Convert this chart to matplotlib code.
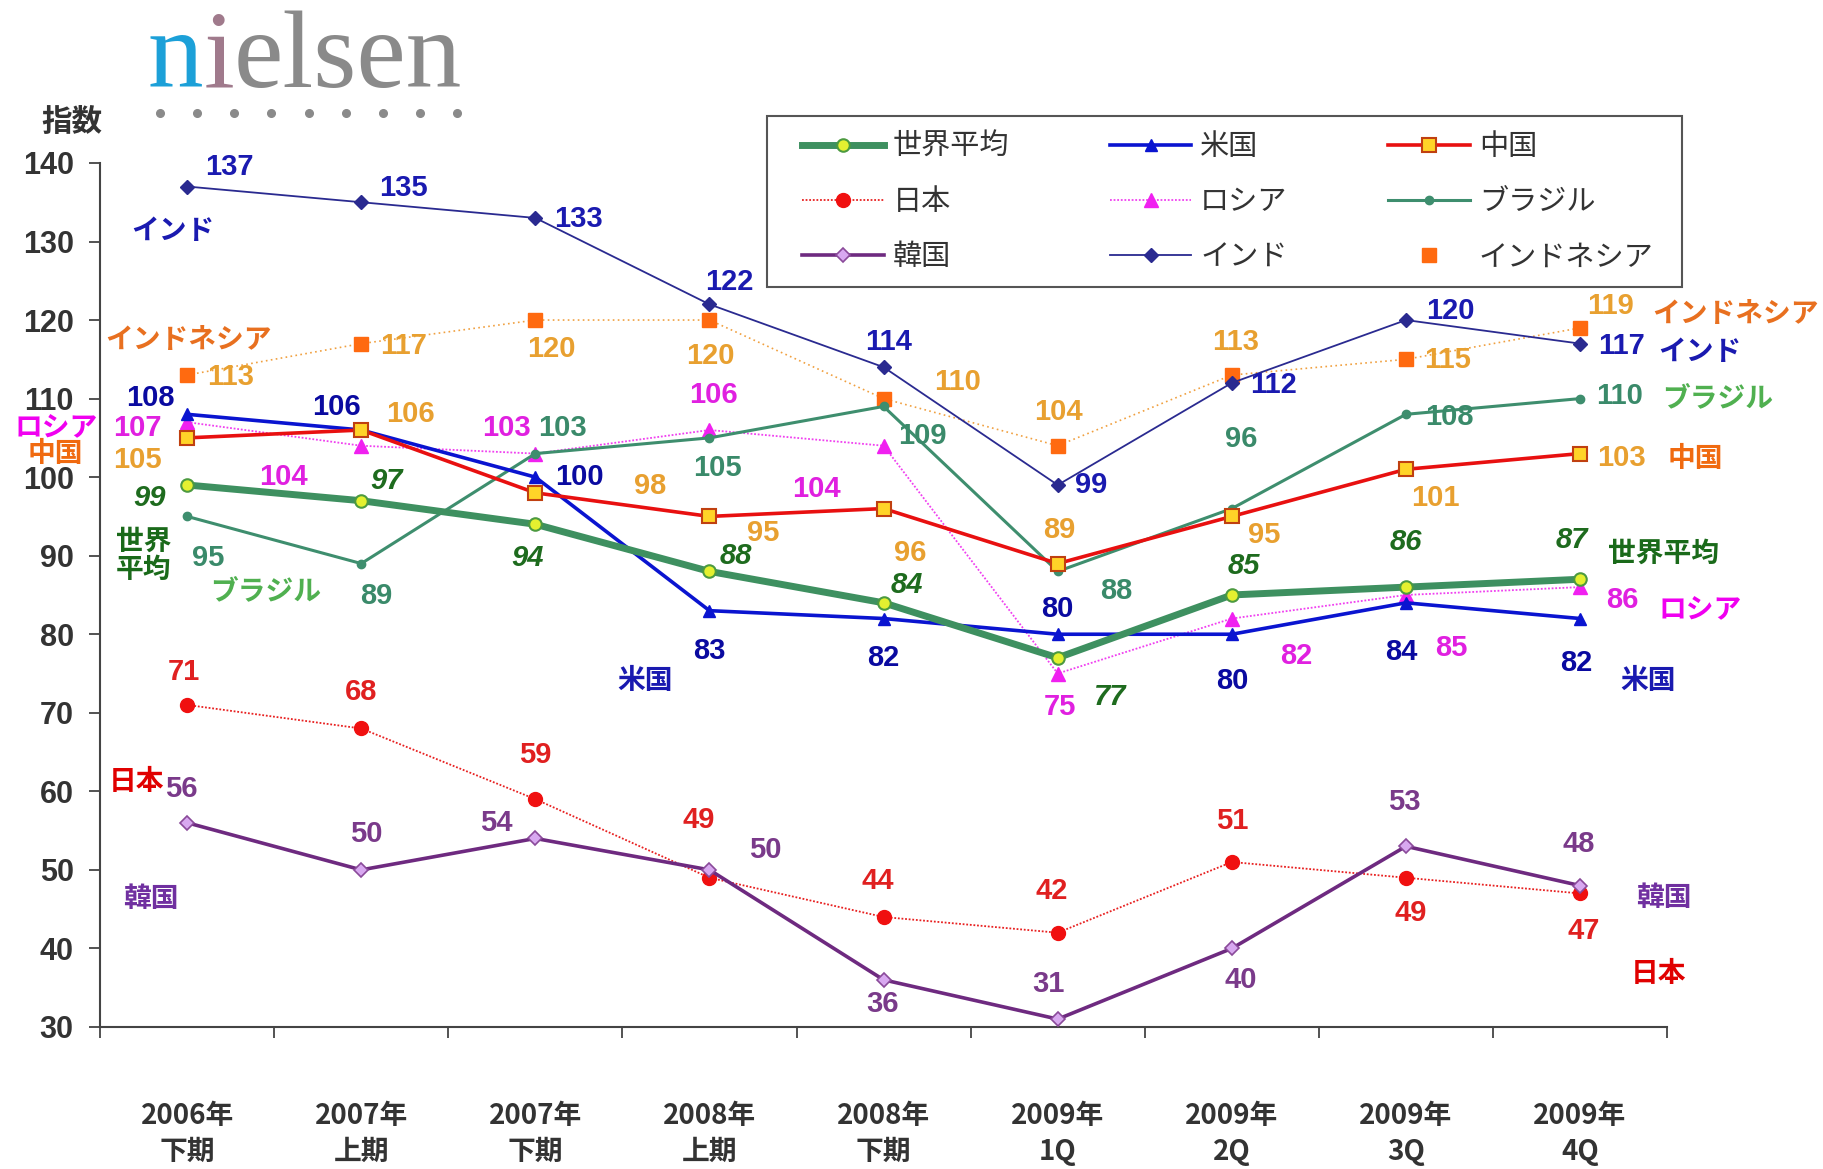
import matplotlib
matplotlib.use("Agg")
import matplotlib.pyplot as plt
from matplotlib.lines import Line2D
from matplotlib.patches import Rectangle
import matplotlib.font_manager as fm

# ---------------- data ----------------
categories = ["2006年\n下期", "2007年\n上期", "2007年\n下期", "2008年\n上期", "2008年\n下期",
              "2009年\n1Q", "2009年\n2Q", "2009年\n3Q", "2009年\n4Q"]
world = [99, 97, 94, 88, 84, 77, 85, 86, 87]
usa = [108, 106, 100, 83, 82, 80, 80, 84, 82]
china = [105, 106, 98, 95, 96, 89, 95, 101, 103]
japan = [71, 68, 59, 49, 44, 42, 51, 49, 47]
russia = [107, 104, 103, 106, 104, 75, 82, 85, 86]
brazil = [95, 89, 103, 105, 109, 88, 96, 108, 110]
korea = [56, 50, 54, 50, 36, 31, 40, 53, 48]
india = [137, 135, 133, 122, 114, 99, 112, 120, 117]
indonesia = [113, 117, 120, 120, 110, 104, 113, 115, 119]
yticks = list(range(30, 141, 10))

names = {"world": "世界平均", "usa": "米国", "china": "中国", "japan": "日本", "russia": "ロシア",
         "brazil": "ブラジル", "korea": "韓国", "india": "インド", "indonesia": "インドネシア"}

avail = {f.name for f in fm.fontManager.ttflist}
NARROW = "Liberation Sans Narrow" if "Liberation Sans Narrow" in avail else "Liberation Sans"
CJK = "Noto Sans CJK JP"
plt.rcParams['font.family'] = [CJK, 'DejaVu Sans']

fig = plt.figure(figsize=(18.23, 11.69), dpi=100)
ax = fig.add_axes([0.0549, 0.1215, 0.8596, 0.7391])
x = list(range(len(categories)))

styles = {
    "world": dict(color="#3E9060", lw=5, marker="o", ms=9, mfc="#E4F030", mec="#4C9A40", mew=1.5, ls="-"),
    "usa": dict(color="#0A14D0", lw=2.6, marker="^", ms=9, mfc="#0A14D0", mec="#0A14D0", ls="-"),
    "china": dict(color="#E81010", lw=2.6, marker="s", ms=10, mfc="#FFD428", mec="#C04010", mew=1.5, ls="-"),
    "japan": dict(color="#E82020", lw=1.3, marker="o", ms=10, mfc="#F01010", mec="#F01010", ls=(0, (1, 1))),
    "russia": dict(color="#F040F0", lw=1.3, marker="^", ms=10, mfc="#F020F0", mec="#F020F0", ls=(0, (1, 1))),
    "brazil": dict(color="#3E8E6E", lw=2.2, marker="o", ms=6, mfc="#3E8E6E", mec="#3E8E6E", ls="-"),
    "korea": dict(color="#6E2A80", lw=2.6, marker="D", ms=7, mfc="#D8A8F0", mec="#8A4A9A", mew=1.2, ls="-"),
    "india": dict(color="#2A2A90", lw=1.3, marker="D", ms=7, mfc="#2A2A90", mec="#2A2A90", ls="-"),
    "indonesia": dict(color="#F0A040", lw=1.2, marker="s", ms=10, mfc="#FF6A10", mec="#FF6A10", ls=(0, (1, 2))),
}
series = {"world": world, "usa": usa, "china": china, "japan": japan, "russia": russia,
          "brazil": brazil, "korea": korea, "india": india, "indonesia": indonesia}

order = ["japan", "russia", "indonesia", "india", "korea", "brazil", "usa", "china", "world"]
for z, k in enumerate(order):
    st = styles[k]
    ax.plot(x, series[k], color=st["color"], lw=st["lw"], ls=st["ls"], marker=st["marker"],
            ms=st["ms"], mfc=st["mfc"], mec=st["mec"], mew=st.get("mew", 1), zorder=3 + z,
            label=names[k])

# ---------------- data labels (offsets in reference px, +y = down) ----------------
lab_col = {"world": "#1E6B1E", "usa": "#0A0AA0", "china": "#E8A030", "japan": "#E02020",
           "russia": "#E020E0", "brazil": "#3A8A6A", "korea": "#7A3A8A", "india": "#1A1AB0",
           "indonesia": "#E8A030"}
offsets = {
    "world": [(-32, 11), (22, -17), (-7, 29), (23, -13), (20, -15), (45, 34), (10, -25), (0, -39), (-7, -34)],
    "usa": [(-32, -14), (-21, -20), (38, 0), (0, 35), (0, 34), (0, -22), (0, 40), (-4, 42), (-3, 38)],
    "china": [(-43, 19), (42, -14), (99, -6), (46, 14), (23, 38), (1, -29), (28, 16), (25, 25), (36, 4)],
    "japan": [(-3, -28), (0, -31), (0, -38), (-9, -50), (-5, -31), (-5, -36), (0, -35), (4, 30), (3, 32)],
    "russia": [(-43, 5), (-67, 27), (-25, -22), (3, -30), (-58, 37), (2, 29), (55, 32), (39, 46), (36, 11)],
    "brazil": [(18, 36), (13, 28), (23, -22), (7, 26), (33, 25), (50, 17), (8, -60), (37, 2), (34, -2)],
    "korea": [(-5, -29), (4, -31), (-34, -13), (48, -17), (-1, 21), (-8, -30), (8, 27), (-1, -38), (-1, -36)],
    "india": [(36, -17), (36, -12), (37, 1), (17, -19), (4, -22), (29, 0), (36, 2), (38, -8), (36, 2)],
    "indonesia": [(37, 2), (36, 2), (14, 25), (1, 31), (64, -14), (1, -29), (3, -28), (36, 1), (26, -19)],
}
S = 1823 / 1568.0
for k, vals in series.items():
    for i, v in enumerate(vals):
        dx, dy = offsets[k][i]
        ax.annotate(str(v), (i, v), xytext=(dx * S, -dy * S), textcoords="offset pixels",
                    ha="center", va="center", fontsize=21, fontweight="bold",
                    fontstyle="italic" if k == "world" else "normal",
                    family=[NARROW, CJK], color=lab_col[k], zorder=20)

# ---------------- series name labels (data coords) ----------------
name_col = {"world": "#1A6A1A", "usa": "#1A1AB0", "china": "#F06A10", "japan": "#E00000",
            "russia": "#F000F0", "brazil": "#50B050", "korea": "#7030A0", "india": "#1A1AB0",
            "indonesia": "#E87020"}
name_pos = {
    "india": [(-0.08, 131.4), (8.69, 115.9)],
    "indonesia": [(0.01, 117.5), (8.89, 120.8)],
    "russia": [(-0.755, 106.3), (8.69, 83.2)],
    "china": [(-0.755, 103.0), (8.66, 102.3)],
    "world": [(-0.25, 90.0), (8.48, 90.3)],
    "brazil": [(0.45, 85.5), (8.79, 110.0)],
    "usa": [(2.63, 74.1), (8.39, 74.1)],
    "japan": [(-0.29, 61.2), (8.45, 36.7)],
    "korea": [(-0.21, 46.3), (8.48, 46.4)],
}
for k, pts in name_pos.items():
    for j, (px, py) in enumerate(pts):
        txt = "世界\n平均" if (k == "world" and j == 0) else names[k]
        ax.text(px, py, txt, ha="center", va="center", fontsize=20, fontweight="bold",
                color=name_col[k], linespacing=1.0, zorder=20, clip_on=False)

# ---------------- axes styling ----------------
ax.set_xlim(-0.5, 8.5)
ax.set_ylim(30, 140)
for sp in ["top", "right"]:
    ax.spines[sp].set_visible(False)
for sp in ["left", "bottom"]:
    ax.spines[sp].set_color("#444444")
    ax.spines[sp].set_linewidth(1.5)
ax.set_yticks(yticks)
ax.set_yticklabels([str(t) for t in yticks], fontsize=22, fontweight="bold", color="#333333",
                   family=["Liberation Sans", CJK])
ax.tick_params(axis="y", direction="out", length=8, width=1.3, color="#444444", pad=11)
ax.set_xticks(x)
ax.set_xticklabels(categories, fontsize=20, fontweight="bold", color="#333333", linespacing=1.36)
ax.tick_params(axis="x", length=0, pad=54)
ax.set_xticks([i - 0.5 for i in range(len(categories) + 1)], minor=True)
ax.tick_params(axis="x", which="minor", direction="out", length=8, width=1.3, color="#444444")

fig.text(0.0395, 0.8956, "指数", fontsize=22, fontweight="bold", color="#333333", ha="center", va="center")

# ---------------- legend ----------------
fig.add_artist(Rectangle((0.4208, 0.7545), 0.5019, 0.1463, transform=fig.transFigure,
                         fill=True, facecolor="white", edgecolor="#555555", lw=1.5, zorder=30))
leg_order = ["world", "japan", "korea", "usa", "russia", "india", "china", "brazil", "indonesia"]
handles = []
for k in leg_order:
    st = styles[k]
    if k == "indonesia":
        h = Line2D([], [], ls="none", marker="s", ms=10, mfc=st["mfc"], mec=st["mec"])
    else:
        h = Line2D([], [], color=st["color"], lw=st["lw"], ls=st["ls"], marker=st["marker"],
                   ms=st["ms"], mfc=st["mfc"], mec=st["mec"], mew=st.get("mew", 1))
    handles.append(h)
leg = fig.legend(handles, [names[k] for k in leg_order], ncol=3, loc="upper left",
                 bbox_to_anchor=(0.440, 0.8870, 0.467, 0.0), mode="expand",
                 fontsize=21, frameon=False, handlelength=2.8, labelspacing=0.86,
                 borderpad=0, handletextpad=0.3, borderaxespad=0)
leg.set_zorder(31)
for t in leg.get_texts():
    t.set_color("#333333")

# ---------------- nielsen logo ----------------
logo_kw = dict(fontsize=80, family=["Liberation Serif", "DejaVu Serif"], va="baseline", ha="left")
base_y = 0.9256
t1 = fig.text(0.081, base_y, "n", color="#1CA0D8", **logo_kw)
t2 = fig.text(0, base_y, "i", color="#A07A8C", **logo_kw)
t3 = fig.text(0, base_y, "elsen", color="#8A8A8A", **logo_kw)
fig.canvas.draw()
r = fig.canvas.get_renderer()
bb1 = t1.get_window_extent(r)
t2.set_x(bb1.x1 / fig.bbox.width)
bb2 = t2.get_window_extent(r)
t3.set_x(bb2.x1 / fig.bbox.width)

dots_x = [0.0878 + i * (0.2507 - 0.0878) / 8 for i in range(9)]
fig.add_artist(Line2D(dots_x, [0.903] * 9, transform=fig.transFigure, ls="none", marker="o",
                      ms=5.5, mfc="#8A8A8A", mec="#8A8A8A"))

fig.savefig("out.png", dpi=100)
